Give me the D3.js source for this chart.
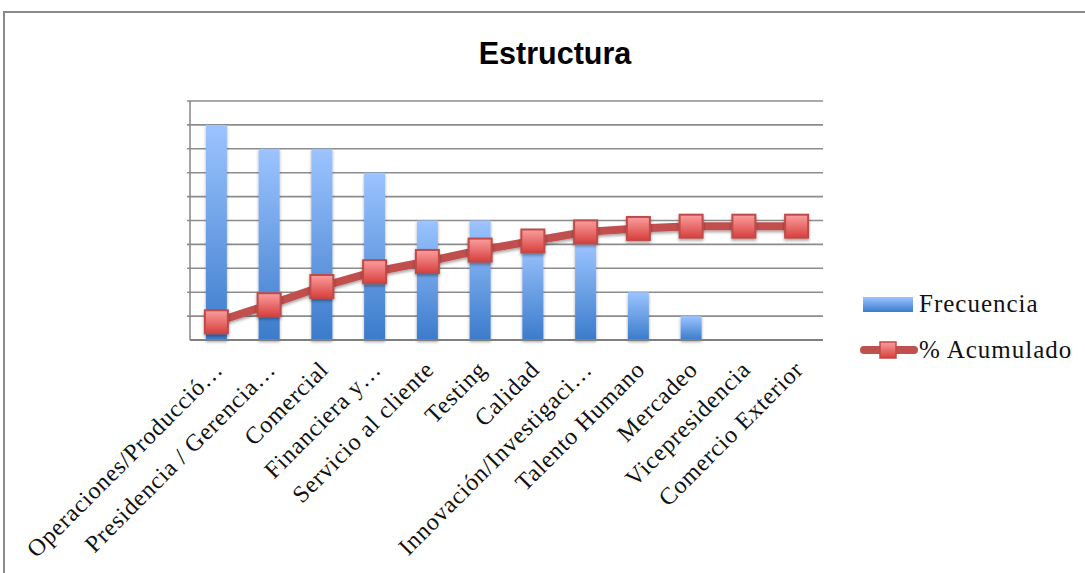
<!DOCTYPE html>
<meta charset="utf-8">
<script src="https://d3js.org/d3.v7.min.js"></script>
<style>
  body { margin: 0; background: #fff; }
  .cat { font-family: "Liberation Serif", serif; font-size: 24px; letter-spacing: 0.8px; fill: #111; }
  .leg { font-family: "Liberation Serif", serif; font-size: 25px; letter-spacing: 1px; fill: #111; }
  .title { font-family: "Liberation Sans", Arial, sans-serif; font-size: 30.5px; font-weight: bold; }
</style>
<div id="chart"></div>
<script>
// data
var categories = ["Operaciones/Producció…", "Presidencia / Gerencia…", "Comercial", "Financiera y…",
  "Servicio al cliente", "Testing", "Calidad", "Innovación/Investigaci…", "Talento Humano",
  "Mercadeo", "Vicepresidencia", "Comercio Exterior"];
var frecuencia = [9, 8, 8, 7, 5, 5, 4, 4, 2, 1, 0, 0];
var acumulado = [16, 31, 47, 60, 69, 79, 87, 95, 98, 100, 100, 100];
var yTicks = [0, 1, 2, 3, 4, 5, 6, 7, 8, 9, 10];

var W = 1085, H = 573;
var pLeft = 190, pRight = 823, pTop = 101, pBottom = 340;

var svg = d3.select("#chart").append("svg")
  .attr("width", W).attr("height", H);

var defs = svg.append("defs");
var gb = defs.append("linearGradient").attr("id", "gBar")
  .attr("x1", 0).attr("y1", 0).attr("x2", 0).attr("y2", 1);
gb.append("stop").attr("offset", "0%").attr("stop-color", "#9cc4ff");
gb.append("stop").attr("offset", "100%").attr("stop-color", "#3b7bcb");
var gm = defs.append("linearGradient").attr("id", "gMark")
  .attr("x1", 0).attr("y1", 0).attr("x2", 0).attr("y2", 1);
gm.append("stop").attr("offset", "0%").attr("stop-color", "#fa9f9e");
gm.append("stop").attr("offset", "100%").attr("stop-color", "#d8403e");
var sh = defs.append("filter").attr("id", "shadow")
  .attr("x", "-30%").attr("y", "-30%").attr("width", "160%").attr("height", "160%");
sh.append("feDropShadow").attr("dx", 0).attr("dy", 2).attr("stdDeviation", 1.8)
  .attr("flood-color", "#000").attr("flood-opacity", 0.35);

// frame
svg.append("path")
  .attr("d", "M4," + H + "V12H" + W)
  .attr("fill", "none").attr("stroke", "#8a8a8a").attr("stroke-width", 2);

// title
svg.append("text").attr("class", "title")
  .attr("x", 555).attr("y", 64).attr("text-anchor", "middle")
  .text("Estructura");

// scales
var x = d3.scaleBand().domain(categories).range([pLeft, pRight]).paddingInner(0);
var y = d3.scaleLinear().domain([0, 10]).range([pBottom, pTop]);
var y2 = d3.scaleLinear().domain([0, 210]).range([pBottom, pTop]);

// gridlines
svg.append("g").selectAll("line")
  .data(yTicks.slice(1))
  .enter().append("line")
    .attr("x1", pLeft - 3).attr("x2", pRight)
    .attr("y1", function(d) { return y(d); })
    .attr("y2", function(d) { return y(d); })
    .attr("stroke", "#8c8c8c").attr("stroke-width", 1.6);

// left axis
svg.append("line")
  .attr("x1", pLeft).attr("x2", pLeft).attr("y1", pTop).attr("y2", pBottom)
  .attr("stroke", "#8c8c8c").attr("stroke-width", 1.6);

// bars
var bw = 21;
svg.append("g").selectAll("rect")
  .data(frecuencia)
  .enter().append("rect")
    .attr("x", function(d, i) { return x(categories[i]) + x.bandwidth() / 2 - bw / 2; })
    .attr("y", function(d) { return y(d); })
    .attr("width", bw)
    .attr("height", function(d) { return pBottom - y(d); })
    .attr("fill", "url(#gBar)")
    .attr("filter", "url(#shadow)");

// bottom axis
svg.append("line")
  .attr("x1", pLeft).attr("x2", pRight).attr("y1", pBottom).attr("y2", pBottom)
  .attr("stroke", "#7f7f7f").attr("stroke-width", 2.2);

// category labels
svg.append("g").selectAll("text")
  .data(categories)
  .enter().append("text")
    .attr("class", "cat")
    .attr("text-anchor", "end")
    .attr("transform", function(d) {
      return "translate(" + (x(d) + x.bandwidth() / 2 + 8) + "," + (pBottom + 31) + ") rotate(-45)";
    })
    .text(function(d) { return d; });

// cumulative line
var line = d3.line()
  .x(function(d, i) { return x(categories[i]) + x.bandwidth() / 2; })
  .y(function(d) { return y2(d); });
svg.append("path")
  .datum(acumulado)
  .attr("d", line)
  .attr("fill", "none").attr("stroke", "#c0504d").attr("stroke-width", 8)
  .attr("stroke-linejoin", "round").attr("stroke-linecap", "round")
  .attr("filter", "url(#shadow)");

var ms = 23;
svg.append("g").selectAll("rect")
  .data(acumulado)
  .enter().append("rect")
    .attr("x", function(d, i) { return x(categories[i]) + x.bandwidth() / 2 - ms / 2; })
    .attr("y", function(d) { return y2(d) - ms / 2; })
    .attr("width", ms).attr("height", ms)
    .attr("fill", "url(#gMark)")
    .attr("stroke", "#be4b48").attr("stroke-width", 2)
    .attr("filter", "url(#shadow)");

// legend
var lg = svg.append("g");
lg.append("rect").attr("x", 863).attr("y", 297).attr("width", 50).attr("height", 15)
  .attr("fill", "url(#gBar)");
lg.append("text").attr("class", "leg").attr("x", 919).attr("y", 312).text("Frecuencia");
lg.append("line").attr("x1", 864).attr("x2", 914).attr("y1", 350).attr("y2", 350)
  .attr("stroke", "#c0504d").attr("stroke-width", 8).attr("stroke-linecap", "round");
lg.append("rect").attr("x", 880).attr("y", 342).attr("width", 16).attr("height", 16)
  .attr("fill", "url(#gMark)").attr("stroke", "#be4b48").attr("stroke-width", 1.5);
lg.append("text").attr("class", "leg").attr("x", 919).attr("y", 358).text("% Acumulado");
</script>
